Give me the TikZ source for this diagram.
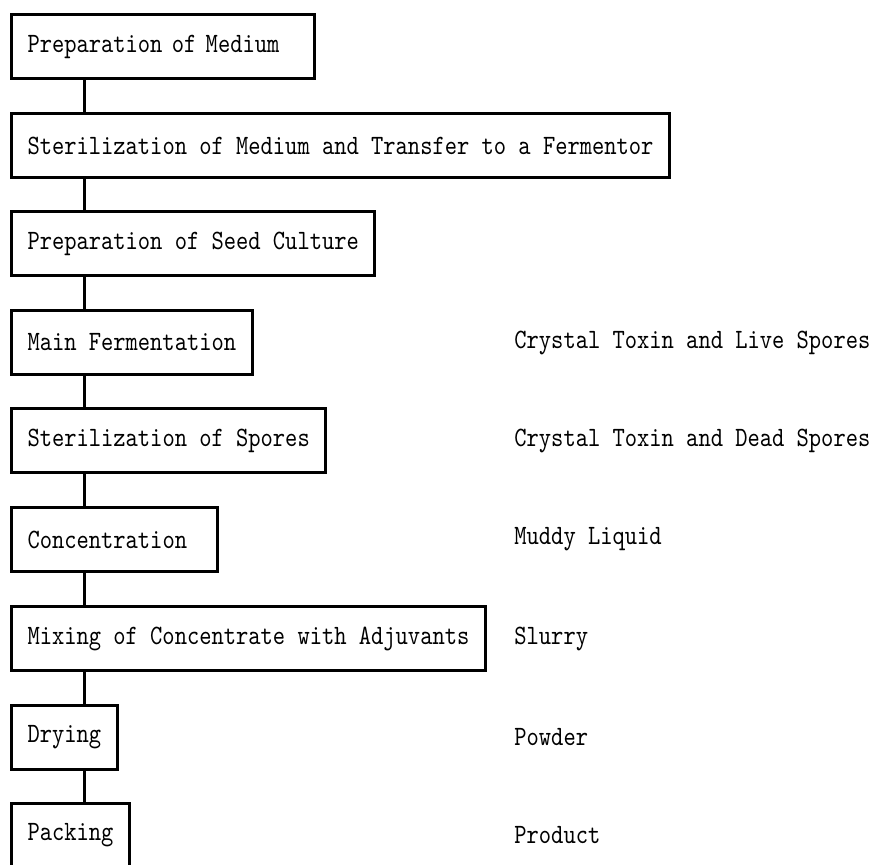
\documentclass[tikz,border=0pt]{standalone}
\usepackage{fontspec}
\setmonofont{lmmono10-regular.otf}[FakeStretch=0.835]
\usetikzlibrary{positioning,calc}

\tikzset{
  stage/.style={rectangle, draw, line width=1.5pt, anchor=north west, minimum height=32pt,
    inner xsep=8pt, inner ysep=0pt, align=left, font=\ttfamily\fontsize{14}{16}\selectfont},
  yield/.style={anchor=west, inner xsep=0pt, font=\ttfamily\fontsize{14}{16}\selectfont},
  link/.style={line width=1.5pt}
}

\begin{document}
\begin{tikzpicture}[x=0.5pt, y=-0.5pt]
        \useasboundingbox (0,0) rectangle (873,865);
        % Process steps
        \node[stage, text width=135.5pt] (s1) at (10,13) {Preparation of Medium};
        \node[stage] (s2) at (10,112) {Sterilization of Medium and Transfer to a Fermentor};
        \node[stage] (s3) at (10,210) {Preparation of Seed Culture};
        \node[stage] (s4) at (10,309) {Main Fermentation};
        \node[stage] (s5) at (10,407) {Sterilization of Spores};
        \node[stage, text width=87pt] (s6) at (10,506) {Concentration};
        \node[stage] (s7) at (10,605) {Mixing of Concentrate with Adjuvants};
        \node[stage] (s8) at (10,704) {Drying};
        \node[stage] (s9) at (10,802) {Packing};

        % Vertical links
        \coordinate (spine) at (84,0);
        \foreach \a/\b in {s1/s2,s2/s3,s3/s4,s4/s5,s5/s6,s6/s7,s7/s8,s8/s9}
          \draw[link] (\a.south -| spine) -- (\b.north -| spine);

        % Intermediate products
        \coordinate (col) at (514,0);
        \node[yield] (p4) at (s4.east -| col) {Crystal Toxin and Live Spores};
        \node[yield] (p5) at (s5.east -| col) {Crystal Toxin and Dead Spores};
        \node[yield] (p6) at (s6.east -| col) {Muddy Liquid};
        \node[yield] (p7) at (s7.east -| col) {Slurry};
        \node[yield] (p8) at (s8.east -| col) {Powder};
        \node[yield] (p9) at (s9.east -| col) {Product};
      \end{tikzpicture}
\end{document}
